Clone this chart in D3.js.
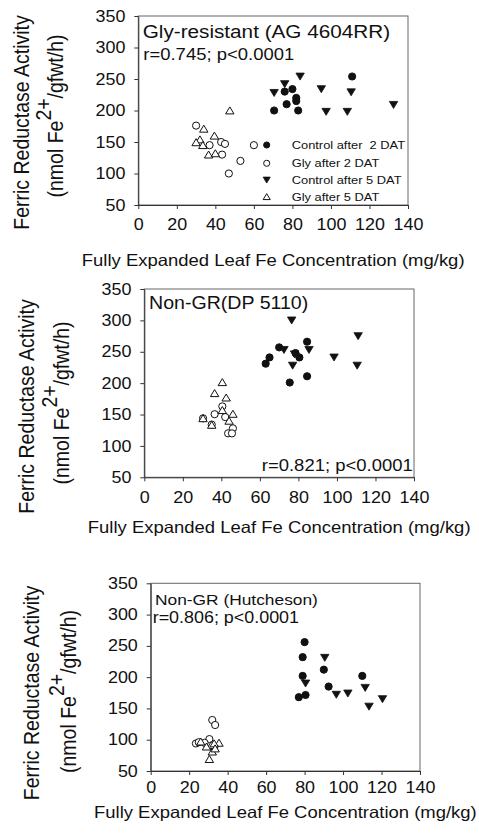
<!DOCTYPE html>
<html>
<head>
<meta charset="utf-8">
<script src="https://cdn.jsdelivr.net/npm/d3@7"></script>
<style>
  body { margin: 0; background: #fff; }
  text { font-family: "Liberation Sans", Arial, sans-serif; fill: #111; }
</style>
</head>
<body>
<div id="chart"></div>
<script>
// Ferric reductase activity vs leaf Fe concentration, three cultivars

const xTicks = [0, 20, 40, 60, 80, 100, 120, 140];
const yTicks = [50, 100, 150, 200, 250, 300, 350];
const seriesNames = ["Control after  2 DAT", "Gly after 2 DAT", "Control after 5 DAT", "Gly after 5 DAT"];
const panelTitles = ["Gly-resistant (AG 4604RR)", "Non-GR(DP 5110)", "Non-GR (Hutcheson)"];
const panelStats = ["r=0.745; p<0.0001", "r=0.821; p<0.0001", "r=0.806; p<0.0001"];

// [leaf Fe (mg/kg), ferric reductase activity]
const agControl2 = [[111, 254], [76, 230], [80, 234], [82, 220], [82, 215], [77, 210], [70.5, 200], [83, 200]];
const agGly2 = [[30, 176], [37, 145], [43, 150], [45, 147], [43.5, 130], [60, 145], [53, 120], [47, 100]];
const agControl5 = [[84, 254], [76, 242], [70.5, 228], [95, 234], [110.5, 229], [97.5, 198], [108.5, 198], [132.5, 209]];
const agGly5 = [[47.5, 200], [34, 171], [39.5, 160], [32, 154], [30, 149.5], [33.5, 145], [36.5, 130], [40, 132]];

const dpControl2 = [[63, 231], [65, 241], [70, 257], [84.5, 266], [78.5, 248], [80.5, 241], [75.5, 201], [84.5, 211]];
const dpGly2 = [[40.5, 163], [36.5, 150.5], [42, 146], [46, 128], [43.5, 120], [45.5, 120], [30.5, 144], [35, 134]];
const dpControl5 = [[76.5, 300], [72.5, 253], [78, 246], [77, 228], [85.5, 253], [98.5, 241], [111, 275], [110.5, 228]];
const dpGly5 = [[40.5, 201.5], [36.5, 184], [42.5, 177], [40.5, 157], [46, 151], [44, 140], [30.5, 144], [35, 133.5]];

const huControl2 = [[80, 256], [79, 232], [79, 202], [77, 168], [80.5, 171.5], [90, 212], [92.5, 185], [110, 202]];
const huGly2 = [[32, 131.5], [33.5, 123.5], [30.5, 101], [23.5, 94], [33, 87], [25, 96], [28, 95]];
const huControl5 = [[80.5, 190], [90.5, 231], [96.5, 172], [102.5, 174], [111.5, 183], [113.5, 153], [120.5, 165]];
const huGly5 = [[26, 97], [31.5, 91.5], [35.5, 95], [33, 94], [32, 81], [30.5, 69], [29, 89], [33.5, 86]];

const W = 479, H = 834;
const SX = 1.12; // the scan is a little wider than tall, text is stretched the same way

// layout of each panel
const panels = [
  { left: 138.3, right: 408, top: 16, bottom: 205, pad: 14, xLabY: 266,
    yl1: [21.7, 122.5], yl2: [55, 116],
    title: { x: 142.7, y: 38.3, size: 18.5 }, stat: { x: 143.3, y: 60, anchor: "start", size: 16.5 },
    series: [agControl2, agGly2, agControl5, agGly5], legend: true },
  { left: 144.3, right: 414, top: 289, bottom: 477.3, pad: 14, xLabY: 533,
    yl1: [26.7, 406.5], yl2: [61.7, 403],
    title: { x: 149, y: 309.3, size: 17.5 }, stat: { x: 412.7, y: 470.7, anchor: "end", size: 16.5 },
    series: [dpControl2, dpGly2, dpControl5, dpGly5], legend: false },
  { left: 150.7, right: 420, top: 583.3, bottom: 771, pad: 10.5, xLabY: 818,
    yl1: [31.7, 693], yl2: [68, 691.5],
    title: { x: 155, y: 604.5, size: 15.5 }, stat: { x: 152.7, y: 622.5, anchor: "start", size: 16 },
    series: [huControl2, huGly2, huControl5, huGly5], legend: false }
];

// marker shapes: filled circle, open circle, filled down triangle, open up triangle
function marker(sel, kind, s) {
  if (kind === 0 || kind === 1) {
    sel.append("circle").attr("r", 3.6 * s)
      .attr("fill", kind === 0 ? "#111" : "#fff")
      .attr("stroke", "#111").attr("stroke-width", 1);
  } else if (kind === 2) {
    sel.append("path").attr("d", `M${-4.2 * s},${-3.4 * s}L${4.2 * s},${-3.4 * s}L0,${3.6 * s}Z`)
      .attr("fill", "#111").attr("stroke", "#111").attr("stroke-width", 0.8);
  } else {
    sel.append("path").attr("d", `M${-4.2 * s},${3.4 * s}L${4.2 * s},${3.4 * s}L0,${-3.6 * s}Z`)
      .attr("fill", "#fff").attr("stroke", "#111").attr("stroke-width", 1);
  }
}

const svg = d3.select("#chart").append("svg")
  .attr("width", W).attr("height", H);

panels.forEach((p, pi) => {
  const x = d3.scaleLinear().domain([0, 140]).range([p.left, p.right]);
  const y = d3.scaleLinear().domain([50, 350]).range([p.bottom, p.top]);
  const g = svg.append("g");

  // plot frame
  g.append("rect")
    .attr("x", p.left).attr("y", p.top)
    .attr("width", p.right - p.left).attr("height", p.bottom - p.top)
    .attr("fill", "none").attr("stroke", "#666").attr("stroke-width", 1);

  const xAxis = g.append("g")
    .attr("transform", `translate(0,${p.bottom})`)
    .call(d3.axisBottom(x).tickValues(xTicks).tickSizeInner(4).tickSizeOuter(0).tickPadding(p.pad - 4));
  const yAxis = g.append("g")
    .attr("transform", `translate(${p.left},0)`)
    .call(d3.axisLeft(y).tickValues(yTicks).tickSizeInner(4).tickSizeOuter(0).tickPadding(7.5));

  [xAxis, yAxis].forEach(a => {
    a.selectAll(".domain").attr("stroke", "#333");
    a.selectAll(".tick line").attr("stroke", "#333");
    a.selectAll(".tick text")
      .style("font-size", "16px")
      .style("font-family", "'Liberation Sans', Arial, sans-serif")
      .attr("fill", "#111")
      .attr("transform", `scale(${SX},1)`);
  });

  // data points
  p.series.forEach((data, k) => {
    g.append("g").selectAll("g").data(data).enter().append("g")
      .attr("transform", d => `translate(${x(d[0])},${y(d[1])})`)
      .each(function () { marker(d3.select(this), k, 1); });
  });

  // panel title and correlation
  g.append("text")
    .attr("transform", `translate(${p.title.x},${p.title.y}) scale(${SX},1)`)
    .style("font-size", p.title.size + "px")
    .text(panelTitles[pi]);
  g.append("text")
    .attr("transform", `translate(${p.stat.x},${p.stat.y}) scale(${SX},1)`)
    .attr("text-anchor", p.stat.anchor)
    .style("font-size", p.stat.size + "px")
    .text(panelStats[pi]);

  // x axis label
  g.append("text")
    .attr("transform", `translate(${(p.left + p.right) / 2},${p.xLabY}) scale(${SX},1)`)
    .attr("text-anchor", "middle")
    .style("font-size", "16.5px")
    .text("Fully Expanded Leaf Fe Concentration (mg/kg)");

  // y axis label, two lines
  g.append("text")
    .attr("transform", `translate(${p.yl1[0]},${p.yl1[1]}) scale(${SX},1) rotate(-90)`)
    .attr("text-anchor", "middle")
    .attr("dy", "0.35em")
    .style("font-size", "19.5px")
    .text("Ferric Reductase Activity");
  const yl2 = g.append("text")
    .attr("transform", `translate(${p.yl2[0]},${p.yl2[1]}) scale(${SX},1) rotate(-90)`)
    .attr("text-anchor", "middle")
    .style("font-size", "19.5px");
  yl2.append("tspan").attr("dy", "0.35em").text("(nmol Fe");
  yl2.append("tspan").attr("dy", "-0.55em").text("2+");
  yl2.append("tspan").attr("dy", "0.55em").text("/gfwt/h)");

  if (p.legend) {
    const rows = [145, 163.3, 180, 196.7];
    seriesNames.forEach((name, k) => {
      const lg = g.append("g").attr("transform", `translate(266.7,${rows[k]})`);
      marker(lg, k, 0.85);
      lg.append("text")
        .attr("transform", `translate(25,0) scale(${SX},1)`)
        .attr("dy", "0.35em")
        .style("font-size", "11.5px")
        .style("white-space", "pre")
        .text(name);
    });
  }
});
</script>
</body>
</html>
